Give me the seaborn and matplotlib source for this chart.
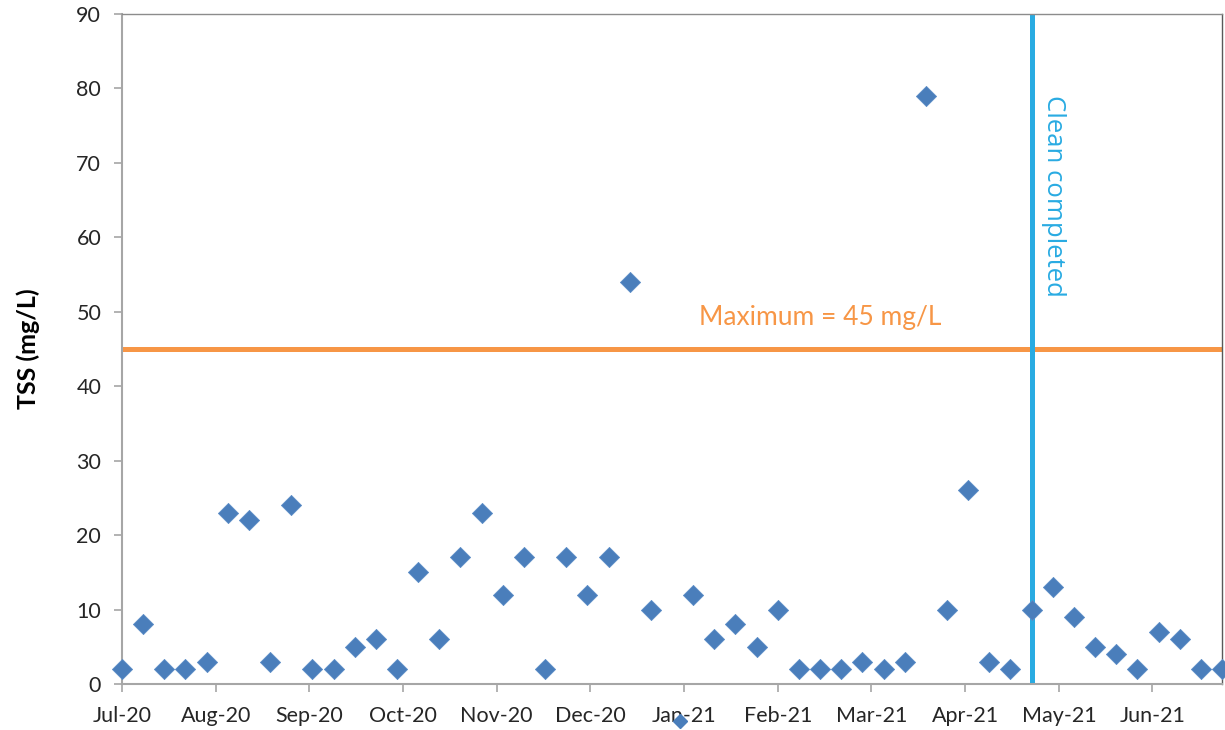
import numpy as np
import pandas as pd
import seaborn as sns
import matplotlib.pyplot as plt
import matplotlib.dates as mdates
from matplotlib.lines import Line2D

# weekly TSS samples, starting 1 Jul 2020 (one week has no sample)
START = "2020-07-01"
TSS = [2, 8, 2, 2, 3, 23, 22, 3, 24, 2,
       2, 5, 6, 2, 15, 6, 17, 23, 12, 17,
       2, 17, 12, 17, 54, 10, np.nan, 12, 6, 8,
       5, 10, 2, 2, 2, 3, 2, 3, 79, 10,
       26, 3, 2, 10, 13, 9, 5, 4, 2, 7,
       6, 2, 2]
MAX_TSS = 45
CLEAN_DATE = "2021-04-28"
X_MIN, X_MAX = "2020-07-01", "2021-06-30"

BLUE = "#4A7EBB"
ORANGE = "#F79646"
CYAN = "#29ABE2"
GRID_GREY = "#A6A6A6"
TEXT = "#262626"

df = pd.DataFrame({
    "date": pd.date_range(START, periods=len(TSS), freq="7D"),
    "tss": TSS,
}).dropna()

sns.set_theme(style="white")
plt.rcParams["font.family"] = ["Lato", "DejaVu Sans"]

fig = plt.figure(figsize=(12.25, 7.3), dpi=100)
ax = fig.add_axes([122 / 1225, 1 - 684 / 730, 1100 / 1225, 670 / 730])

ax.axhline(MAX_TSS, color=ORANGE, lw=3.6, zorder=2)
ax.axvline(pd.Timestamp(CLEAN_DATE), color=CYAN, lw=3.6, zorder=2)

sns.scatterplot(data=df, x="date", y="tss", marker="D", s=105,
                color=BLUE, edgecolor="#5B8CC6", linewidth=0.6,
                ax=ax, zorder=3, clip_on=False, legend=False)

ax.text(pd.Timestamp("2021-02-17"), 49.2, "Maximum = 45 mg/L",
        color=ORANGE, fontsize=19, ha="center", va="center")
ax.text(pd.Timestamp(CLEAN_DATE) + pd.Timedelta(days=7.3), 65.5,
        "Clean completed", color=CYAN, fontsize=18.5, rotation=270,
        ha="center", va="center", family=["Open Sans", "DejaVu Sans"])

ax.set_xlim(pd.Timestamp(X_MIN), pd.Timestamp(X_MAX))
ax.set_ylim(0, 90)
ax.set_yticks(range(0, 91, 10))
ticks = pd.date_range(START, periods=12, freq="31D")
ax.set_xticks(ticks)
ax.xaxis.set_major_formatter(mdates.DateFormatter("%b-%y"))

ax.set_xlabel("")
ax.set_ylabel("TSS (mg/L)", fontsize=18, fontweight="bold",
              color="black", labelpad=26)
ax.tick_params(axis="both", labelsize=15.5, labelcolor=TEXT,
               direction="out", length=6, width=1.2, color=GRID_GREY,
               bottom=True, left=True)
ax.tick_params(axis="x", pad=10)
ax.tick_params(axis="y", pad=9)

for side in ["left", "bottom"]:
    ax.spines[side].set_color(GRID_GREY)
    ax.spines[side].set_linewidth(1.5)
ax.spines["top"].set_color("#8C8C8C")
ax.spines["right"].set_color("#595959")
ax.spines["top"].set_linewidth(1.0)
ax.spines["right"].set_linewidth(1.0)

# legend marker with no text, as in the source workbook
handle = Line2D([], [], marker="D", ls="", color=BLUE, markersize=7)
fig.legend(handles=[handle], labels=[""], loc="center",
           bbox_to_anchor=(680 / 1225, 1 - 722 / 730), frameon=False,
           handlelength=1.0, handletextpad=0, borderpad=0)

fig.savefig("out.png", dpi=100)
